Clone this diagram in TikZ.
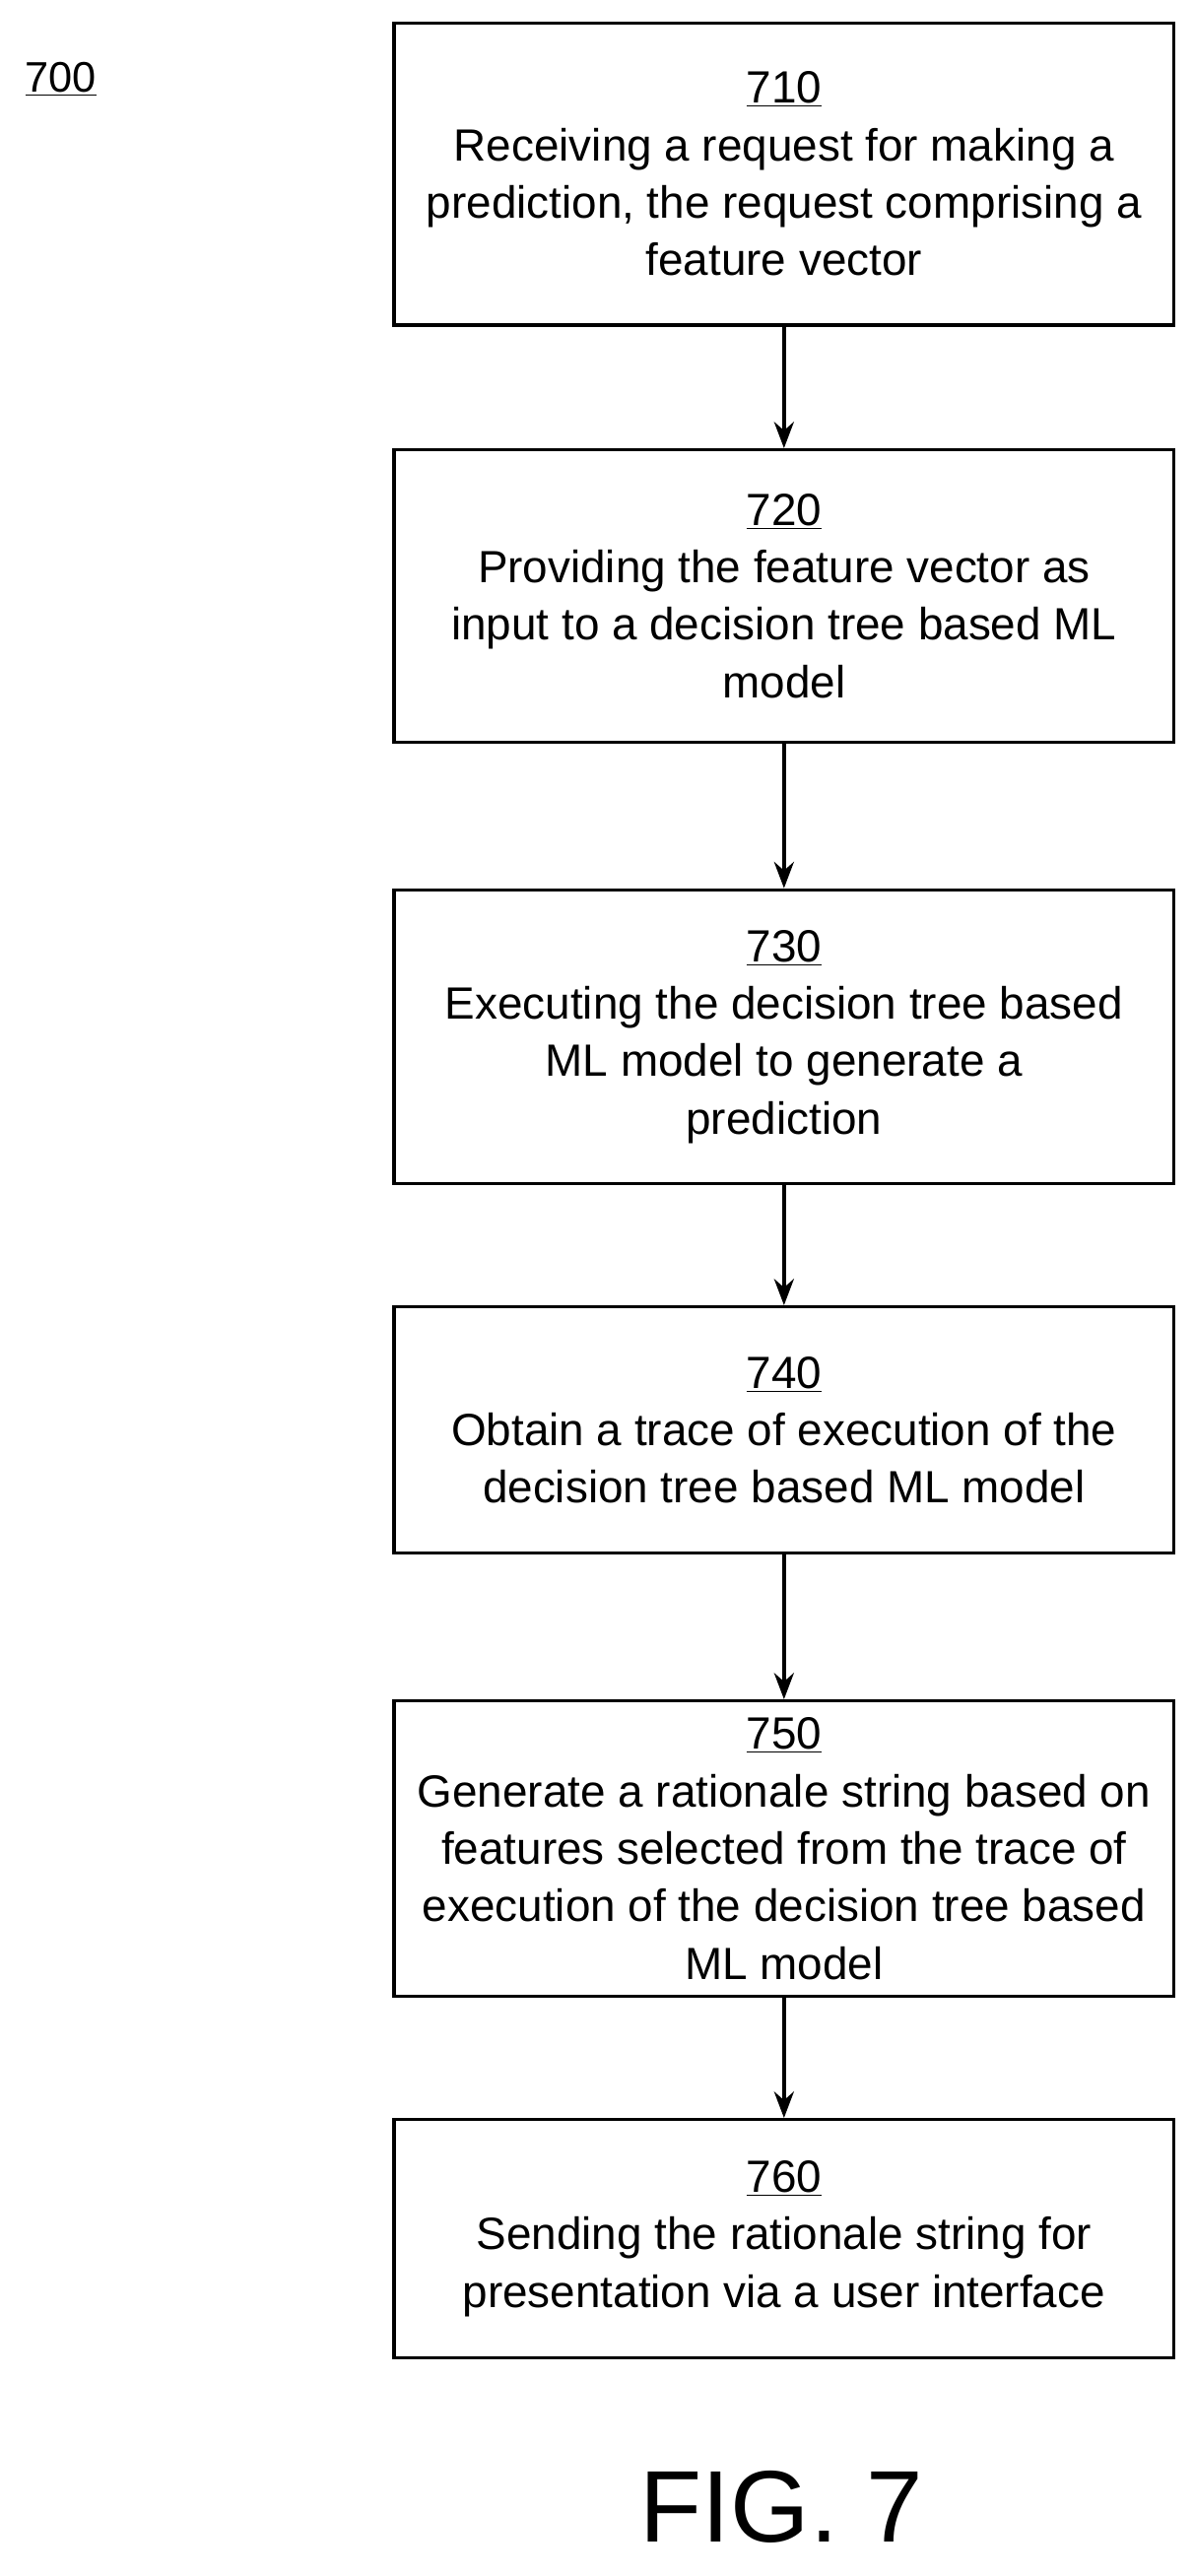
\documentclass[tikz,border=0pt]{standalone}
\usepackage{fontspec}
\setmainfont{Liberation Sans}
\usetikzlibrary{arrows.meta}
\begin{document}
\begin{tikzpicture}[x=1pt,y=-1pt,
  box/.style={draw,line width=2pt,align=center,font=\fontsize{27.5}{35}\selectfont},
  arr/.style={-{Stealth[length=16pt,width=12pt]},line width=2.4pt}]
\useasboundingbox (0,0) rectangle (726,1569);
\newcommand{\bx}[6]{\node[box,minimum width=#4-#2,minimum height=#5-#3,anchor=north west,inner sep=0pt] (#1) at (#2,#3) {#6};}
\bx{b710}{239}{13}{714}{197}{\underline{710}\\Receiving a request for making a\\prediction, the request comprising a\\feature vector}
\bx{b720}{239}{273}{714}{451}{\underline{720}\\Providing the feature vector as\\input to a decision tree based ML\\model}
\bx{b730}{239}{541}{714}{720}{\underline{730}\\Executing the decision tree based\\ML model to generate a\\prediction}
\bx{b740}{239}{795}{714}{945}{\underline{740}\\Obtain a trace of execution of the\\decision tree based ML model}
\bx{b750}{239}{1035}{714}{1215}{\underline{750}\\Generate a rationale string based on\\features selected from the trace of\\execution of the decision tree based\\ML model}
\bx{b760}{239}{1290}{714}{1435}{\underline{760}\\Sending the rationale string for\\presentation via a user interface}
\draw[arr] (b710) -- (b720);
\draw[arr] (b720) -- (b730);
\draw[arr] (b730) -- (b740);
\draw[arr] (b740) -- (b750);
\draw[arr] (b750) -- (b760);
\node[font=\fontsize{26}{30}\selectfont] (l700) at (37,48) {\underline{700}};
\node[font=\fontsize{62}{70}\selectfont] (fig) at (476,1527) {FIG. 7};
\end{tikzpicture}
\end{document}
